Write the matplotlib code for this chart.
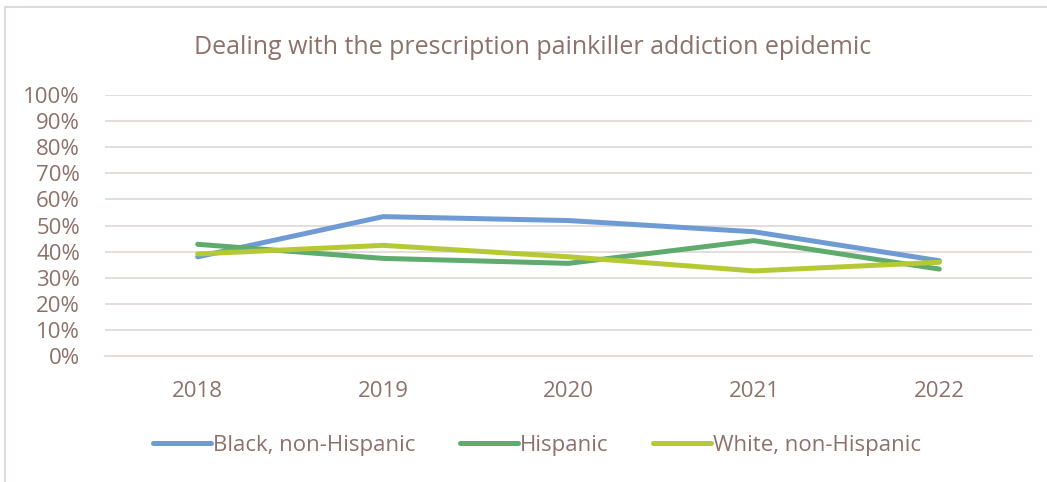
import matplotlib.pyplot as plt
from matplotlib.lines import Line2D
from matplotlib.ticker import PercentFormatter

plt.rcParams['font.family'] = ['Open Sans', 'DejaVu Sans']

years = ["2018", "2019", "2020", "2021", "2022"]
black_non_hispanic = [0.380, 0.534, 0.519, 0.476, 0.365]
hispanic = [0.428, 0.374, 0.355, 0.442, 0.333]
white_non_hispanic = [0.391, 0.424, 0.380, 0.326, 0.359]

series_names = ["Black, non-Hispanic", "Hispanic", "White, non-Hispanic"]
series_colors = ["#6f9bd4", "#5fab6d", "#b5c934"]
text_color = "#8c726a"
grid_color = "#e2dad8"

W, H = 1047, 482
fig = plt.figure(figsize=(W / 100, H / 100), dpi=100)
fig.patch.set_facecolor("white")

# chart frame (top and left edges)
fig.add_artist(Line2D([5 / W, 5 / W], [0, 1 - 7 / H], transform=fig.transFigure,
                      color=grid_color, lw=1.5))
fig.add_artist(Line2D([5 / W, 1], [1 - 7 / H, 1 - 7 / H], transform=fig.transFigure,
                      color=grid_color, lw=1.5))

ax = fig.add_axes([105 / W, 1 - 356 / H, (1032 - 105) / W, (356 - 95) / H])
x = list(range(len(years)))
for vals, name, col in zip([black_non_hispanic, hispanic, white_non_hispanic],
                           series_names, series_colors):
    ax.plot(x, vals, color=col, lw=3.6, solid_capstyle="round",
            solid_joinstyle="round", label=name)

ax.set_xlim(-0.5, len(years) - 0.5)
ax.set_ylim(0, 1.0)
ax.set_yticks([i / 10 for i in range(11)])
ax.yaxis.set_major_formatter(PercentFormatter(1.0, decimals=0))
ax.set_xticks(x)
ax.set_xticklabels(years)
ax.grid(axis="y", color=grid_color, lw=1.3)
ax.set_axisbelow(True)
for s in ["top", "right", "left"]:
    ax.spines[s].set_visible(False)
ax.spines["bottom"].set_color(grid_color)
ax.spines["bottom"].set_linewidth(1.3)
ax.tick_params(axis="both", length=0, labelsize=16, colors=text_color)
ax.tick_params(axis="y", pad=18)
ax.tick_params(axis="x", pad=18)

fig.text(533 / W, 1 - 47 / H, "Dealing with the prescription painkiller addiction epidemic",
         ha="center", va="center", fontsize=18, color=text_color)

leg = fig.legend(loc="center", bbox_to_anchor=(537 / W, 1 - 445 / H), ncol=3,
                 frameon=False, fontsize=16, handlelength=2.6, handletextpad=0.1,
                 columnspacing=2.0)
for t in leg.get_texts():
    t.set_color(text_color)

fig.savefig("out.png", dpi=100, facecolor="white")
